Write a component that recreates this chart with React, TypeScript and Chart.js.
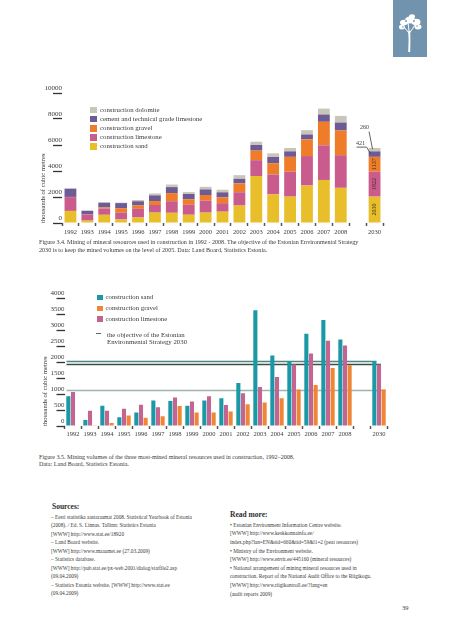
import React, { useEffect, useRef } from 'react';
import { Chart, registerables } from 'chart.js';

Chart.register(...registerables);

// ---------- data ----------
const years = ['1992', '1993', '1994', '1995', '1996', '1997', '1998', '1999', '2000', '2001', '2002', '2003', '2004', '2005', '2006', '2007', '2008', '', '2030'];
const sand = [930, 185, 630, 270, 425, 800, 785, 635, 800, 870, 1340, 3615, 2200, 2030, 2885, 3310, 2705, null, 2030];
const limestone = [1060, 480, 480, 540, 665, 583, 890, 765, 930, 655, 1025, 1218, 1530, 1922, 2265, 2665, 2512, null, 1922];
const gravel = [15, 10, 90, 330, 258, 303, 625, 425, 425, 455, 680, 735, 870, 1137, 1280, 1810, 1900, null, 1137];
const cement = [640, 270, 370, 390, 325, 440, 460, 405, 430, 380, 355, 430, 480, 421, 380, 560, 610, null, 421];
const dolomite = [0, 0, 0, 40, 100, 150, 200, 150, 200, 200, 280, 255, 280, 260, 330, 455, 510, null, 260];
// objective of the Estonian Environmental Strategy 2030: sand, limestone, gravel
const objective = [2030, 1922, 1137];

const FONT = "'Liberation Serif', 'DejaVu Serif', serif";
const TEXT = '#3a3a3a';

const C1 = { sand: '#e8bf2b', limestone: '#ca5b8d', gravel: '#ee7c29', cement: '#6c5b94', dolomite: '#c9c6b9' };
const C2 = { sand: '#1b98a6', limestone: '#c46591', gravel: '#ef8635' };
const OBJ_COLORS = ['#4f8584', '#3c4e4a', '#9fb3b1'];

const plain = (v: any) => String(v);

// ---------- plugins ----------
const labels2030 = {
  id: 'labels2030',
  afterDatasetsDraw(chart: any) {
    const ctx = chart.ctx;
    const last = years.length - 1;
    const series = [sand, limestone, gravel];
    ctx.save();
    ctx.font = `6px ${FONT}`;
    ctx.fillStyle = '#3b2f1a';
    ctx.textAlign = 'center';
    ctx.textBaseline = 'middle';
    for (let i = 0; i < 3; i++) {
      const el = chart.getDatasetMeta(i).data[last];
      const p = el.getProps(['x', 'y', 'base'], true);
      ctx.save();
      ctx.translate(p.x, (p.y + p.base) / 2);
      ctx.rotate(-Math.PI / 2);
      ctx.fillText(String(series[i][last]), 0, 0);
      ctx.restore();
    }
    const cem = chart.getDatasetMeta(3).data[last].getProps(['x', 'y', 'base'], true);
    const dol = chart.getDatasetMeta(4).data[last].getProps(['x', 'y', 'base'], true);
    const yC = (cem.y + cem.base) / 2;
    const yD = (dol.y + dol.base) / 2;
    ctx.strokeStyle = '#3a3a3a';
    ctx.lineWidth = 0.8;
    ctx.beginPath();
    ctx.moveTo(dol.x - 5.5, yD - 18);
    ctx.lineTo(dol.x - 2, yD - 0.5);
    ctx.stroke();
    ctx.beginPath();
    ctx.moveTo(cem.x - 18, yC - 7);
    ctx.lineTo(cem.x - 8, yC - 7);
    ctx.lineTo(cem.x - 4, yC - 0.5);
    ctx.stroke();
    ctx.fillStyle = '#3a3a3a';
    ctx.font = `6px ${FONT}`;
    ctx.fillText(String(dolomite[last]), dol.x - 10, yD - 22);
    ctx.fillText(String(cement[last]), cem.x - 14, yC - 11);
    ctx.restore();
  },
};

const objectiveLines = {
  id: 'objectiveLines',
  beforeDatasetsDraw(chart: any) {
    const ctx = chart.ctx;
    const last = years.length - 1;
    const yScale = chart.scales.y;
    ctx.save();
    ctx.lineWidth = 1.3;
    for (let i = 0; i < objective.length; i++) {
      const el = chart.getDatasetMeta(i).data[last];
      const p = el.getProps(['x', 'width'], true);
      const y = Math.round(yScale.getPixelForValue(objective[i])) + 0.5;
      ctx.strokeStyle = OBJ_COLORS[i];
      ctx.beginPath();
      ctx.moveTo(chart.chartArea.left + 2, y);
      ctx.lineTo(p.x + p.width / 2, y);
      ctx.stroke();
    }
    ctx.restore();
  },
};

// ---------- charts ----------
function StackedChart() {
  const ref = useRef<HTMLCanvasElement>(null);
  useEffect(() => {
    const chart = new Chart(ref.current as HTMLCanvasElement, {
      type: 'bar',
      data: {
        labels: years,
        datasets: [
          { label: 'construction sand', data: sand, backgroundColor: C1.sand },
          { label: 'construction limestone', data: limestone, backgroundColor: C1.limestone },
          { label: 'construction gravel', data: gravel, backgroundColor: C1.gravel },
          { label: 'cement and technical grade limestone', data: cement, backgroundColor: C1.cement },
          { label: 'construction dolomite', data: dolomite, backgroundColor: C1.dolomite },
        ],
      },
      options: {
        responsive: false,
        animation: false,
        datasets: { bar: { categoryPercentage: 0.7, barPercentage: 1 } },
        layout: { padding: { left: 0, right: 17, top: 13, bottom: 0 } },
        plugins: { legend: { display: false }, tooltip: { enabled: false } },
        scales: {
          x: {
            stacked: true,
            grid: { display: true, drawOnChartArea: false, offset: true, tickLength: 3, tickColor: '#555', tickWidth: 1.5 },
            border: { display: false },
            ticks: { font: { family: FONT, size: 6.5 }, color: TEXT, padding: 2, maxRotation: 0, autoSkip: false },
            afterFit: (s: any) => { s.height = 22; },
          },
          y: {
            stacked: true,
            min: 0,
            max: 10000,
            ticks: { stepSize: 2000, callback: plain, font: { family: FONT, size: 7 }, color: TEXT, padding: -9, labelOffset: -5 },
            grid: { drawOnChartArea: false, tickLength: 9, tickColor: '#333', tickWidth: 1.3 },
            border: { display: false },
            title: { display: true, text: 'thousands of cubic metres', align: 'start', font: { family: FONT, size: 6.7 }, color: TEXT, padding: { top: 39, bottom: 0 } },
            afterFit: (s: any) => { s.width = 62; },
          },
        },
      },
      plugins: [labels2030],
    } as any);
    return () => chart.destroy();
  }, []);
  return <canvas ref={ref} width={400} height={165} style={{ position: 'absolute', left: 0, top: 80, width: 400, height: 165 }} />;
}

function GroupedChart() {
  const ref = useRef<HTMLCanvasElement>(null);
  useEffect(() => {
    const chart = new Chart(ref.current as HTMLCanvasElement, {
      type: 'bar',
      data: {
        labels: years,
        datasets: [
          { label: 'construction sand', data: sand, backgroundColor: C2.sand },
          { label: 'construction limestone', data: limestone, backgroundColor: C2.limestone },
          { label: 'construction gravel', data: gravel, backgroundColor: C2.gravel },
        ],
      },
      options: {
        responsive: false,
        animation: false,
        datasets: { bar: { categoryPercentage: 0.82, barPercentage: 0.88 } },
        layout: { padding: { left: 0, right: 12.5, top: 13, bottom: 0 } },
        plugins: { legend: { display: false }, tooltip: { enabled: false } },
        scales: {
          x: {
            grid: { display: true, drawOnChartArea: false, offset: true, tickLength: 3, tickColor: '#555', tickWidth: 1.5 },
            border: { display: false },
            ticks: { font: { family: FONT, size: 6.5 }, color: TEXT, padding: 1, maxRotation: 0, autoSkip: false },
            afterFit: (s: any) => { s.height = 19; },
          },
          y: {
            min: 0,
            max: 4000,
            ticks: { stepSize: 500, callback: plain, font: { family: FONT, size: 7 }, color: TEXT, padding: -8, labelOffset: -5 },
            grid: { drawOnChartArea: false, tickLength: 8, tickColor: '#333', tickWidth: 1.3 },
            border: { display: false },
            title: { display: true, text: 'thousands of cubic metres', align: 'start', font: { family: FONT, size: 6.7 }, color: TEXT, padding: { top: 41, bottom: 0 } },
            afterFit: (s: any) => { s.width = 64.5; },
          },
        },
      },
      plugins: [objectiveLines],
    } as any);
    return () => chart.destroy();
  }, []);
  return <canvas ref={ref} width={400} height={160} style={{ position: 'absolute', left: 0, top: 285, width: 400, height: 160 }} />;
}

// ---------- text helpers ----------
function T({ x, cy, size, bold, color, children }: any) {
  const lh = size * 1.2;
  return (
    <div
      style={{
        position: 'absolute',
        left: x,
        top: cy - lh / 2,
        fontSize: size,
        lineHeight: `${lh}px`,
        fontWeight: bold ? 700 : 400,
        whiteSpace: 'nowrap',
        color: color || TEXT,
      }}
    >
      {children}
    </div>
  );
}

function Box({ x, cy, w, h, color }: any) {
  return <div style={{ position: 'absolute', left: x, top: cy - h / 2, width: w, height: h, background: color }} />;
}

const legend1 = [
  { text: 'construction dolomite', color: C1.dolomite },
  { text: 'cement and technical grade limestone', color: C1.cement },
  { text: 'construction gravel', color: C1.gravel },
  { text: 'construction limestone', color: C1.limestone },
  { text: 'construction sand', color: C1.sand },
];
const legend1Y = [110, 119.2, 128.3, 137.4, 146.5];

const legend2 = [
  { text: 'construction sand', color: C2.sand },
  { text: 'construction gravel', color: C2.gravel },
  { text: 'construction limestone', color: C2.limestone },
];
const legend2Y = [297.5, 308.5, 319];

const sources = [
  '– Eesti statistika aastaraamat 2008. Statistical Yearbook of Estonia',
  '(2008). / Ed. S. Linnas. Tallinn: Statistics Estonia',
  '[WWW] http://www.stat.ee/18920',
  '– Land Board website.',
  '[WWW] http://www.maaamet.ee (27.03.2009)',
  '– Statistics database.',
  '[WWW] http://pub.stat.ee/px-web.2001/dialog/statfile2.asp',
  '(09.04.2009)',
  '– Statistics Estonia website. [WWW] http://www.stat.ee',
  '(09.04.2009)',
];

const readMore = [
  '• Estonian Environment Information Centre website.',
  '[WWW] http://www.keskkonnainfo.ee/',
  'index.php?lan=EN&sid=660&tid=59&l1=2 (peat resources)',
  '• Ministry of the Environment website.',
  '[WWW] http://www.envir.ee/445160 (mineral resources)',
  '• National arrangement of mining mineral resources used in',
  'construction. Report of the National Audit Office to the Riigikogu.',
  '[WWW] http://www.riigikontroll.ee/?lang=en',
  '(audit reports 2009)',
];

function Logo() {
  return (
    <div style={{ position: 'absolute', left: 393, top: 0, width: 34, height: 57, background: '#7193ad' }}>
      <svg width={34} height={57} viewBox="0 0 34 57">
        <path d="M15.2 52 L15.6 40 L15.2 31 L17.2 31 L17.4 40 L17.2 52 Z" fill="#fff" />
        <path d="M16 33 L11 27 M16.5 33 L22 25 M16 31 L15 22" stroke="#fff" strokeWidth={1} fill="none" />
        <ellipse cx={17} cy={20} rx={5} ry={3.5} fill="#fff" />
        <ellipse cx={23} cy={22} rx={4.5} ry={3.2} fill="#fff" />
        <ellipse cx={11} cy={22.5} rx={4} ry={2.8} fill="#fff" />
        <ellipse cx={9} cy={27} rx={3} ry={2.5} fill="#fff" />
        <ellipse cx={25} cy={27} rx={3.5} ry={2.4} fill="#fff" />
        <ellipse cx={19} cy={16.5} rx={3} ry={2.2} fill="#fff" />
        <circle cx={13} cy={21} r={0.9} fill="#7193ad" />
        <circle cx={21} cy={21} r={0.9} fill="#7193ad" />
        <circle cx={10} cy={27} r={0.8} fill="#7193ad" />
        <circle cx={24} cy={26} r={0.8} fill="#7193ad" />
      </svg>
    </div>
  );
}

export default function App() {
  return (
    <div
      style={{
        position: 'absolute',
        left: 0,
        top: 0,
        width: 453,
        height: 640,
        background: '#fff',
        fontFamily: FONT,
        color: TEXT,
        overflow: 'hidden',
      }}
    >
      <Logo />
      <StackedChart />
      {legend1.map((it, i) => (
        <React.Fragment key={it.text}>
          <Box x={90} cy={legend1Y[i]} w={7} h={6.5} color={it.color} />
          <T x={100} cy={legend1Y[i]} size={6.8}>{it.text}</T>
        </React.Fragment>
      ))}
      <T x={39} cy={243} size={6.1}>
        Figure 3.4. Mining of mineral resources used in construction in 1992 - 2008. The objective of the Estonian Environmental Strategy
      </T>
      <T x={39} cy={251} size={6.1}>
        2030 is to keep the mined volumes on the level of 2005. Data: Land Board, Statistics Estonia.
      </T>

      <GroupedChart />
      {legend2.map((it, i) => (
        <React.Fragment key={it.text}>
          <Box x={97} cy={legend2Y[i]} w={5.7} h={5.7} color={it.color} />
          <T x={105.5} cy={legend2Y[i]} size={6.8}>{it.text}</T>
        </React.Fragment>
      ))}
      <Box x={96} cy={333.5} w={5} h={1.3} color="#4a6a66" />
      <T x={107} cy={334.8} size={6.8}>the objective of the Estonian</T>
      <T x={107} cy={342} size={6.8}>Environmental Strategy 2030</T>
      <T x={39} cy={457.5} size={6.1}>
        Figure 3.5. Mining volumes of the three most-mined mineral resources used in construction, 1992–2008.
      </T>
      <T x={39} cy={464.5} size={6.1}>Data: Land Board, Statistics Estonia.</T>

      <T x={52} cy={506} size={7.5} bold color="#2e2e2e">Sources:</T>
      {sources.map((s, i) => (
        <T key={i} x={51} cy={516.7 + i * 8.5} size={5.3}>{s}</T>
      ))}
      <T x={230} cy={514} size={7.5} bold color="#2e2e2e">Read more:</T>
      {readMore.map((s, i) => (
        <T key={i} x={230} cy={525 + i * 8.6} size={5.3}>{s}</T>
      ))}
      <T x={402} cy={608} size={6.5}>39</T>
    </div>
  );
}
